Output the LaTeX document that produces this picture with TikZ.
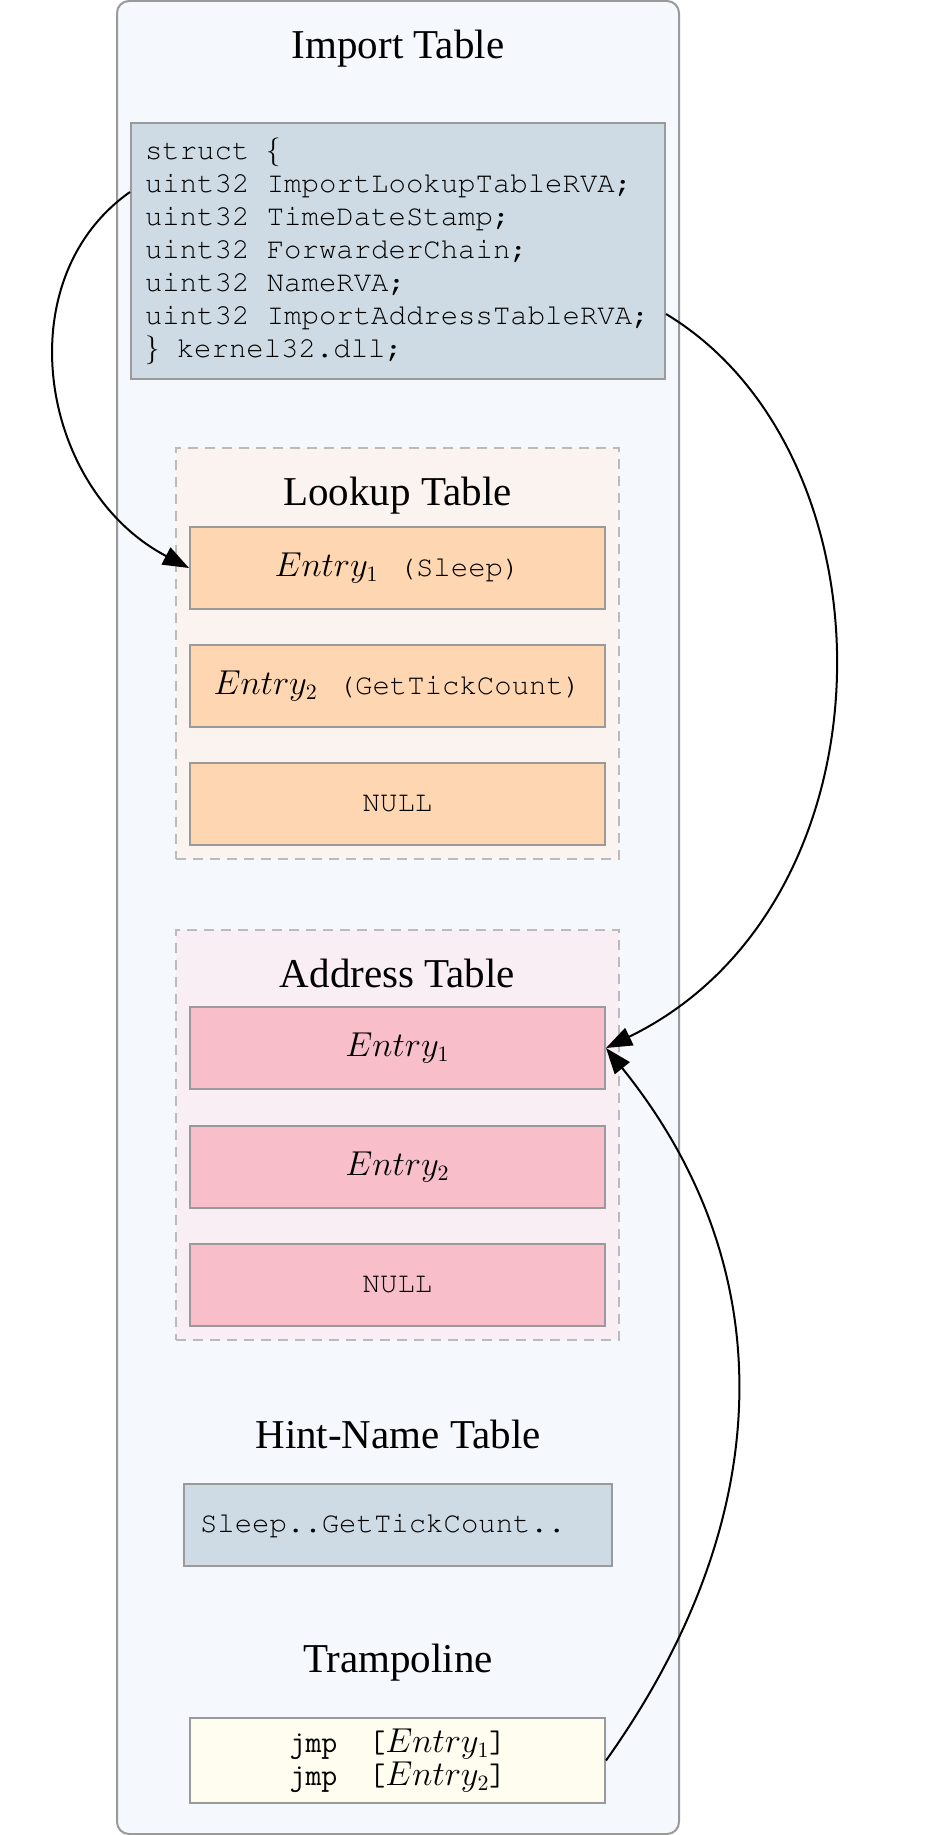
\documentclass[tikz,border=0pt]{standalone}
\usepackage[T1]{fontenc}
\usepackage{fontspec}
\setmainfont{Liberation Serif}
\usetikzlibrary{arrows.meta}
\definecolor{outerfill}{HTML}{F5F8FD}
\definecolor{boxborder}{HTML}{9A9A9A}
\definecolor{structfill}{HTML}{CEDBE4}
\definecolor{lookfill}{HTML}{FBF3EF}
\definecolor{lookentry}{HTML}{FED6B1}
\definecolor{addrfill}{HTML}{F9EEF3}
\definecolor{addrentry}{HTML}{F8BFCB}
\definecolor{trampfill}{HTML}{FEFDF0}
\definecolor{dashcol}{HTML}{BBBBBB}
\newcommand\courfont{\fontencoding{T1}\fontfamily{pcr}\selectfont}
\newcommand\fullspaces{\spaceskip=0.6em\relax\xspaceskip=0.6em\relax}
\newcommand\codetxt[1]{{\fontsize{14.5}{17}\courfont #1}}
\newcommand\jmptxt[1]{{\ttfamily\fontsize{15.5}{16.5}\selectfont #1}}
\begin{document}
\begin{tikzpicture}[x=0.5pt,y=-0.5pt,
  titletext/.style={font=\fontsize{20.5}{24}\selectfont, inner sep=0pt, anchor=center},
  container/.style={draw=boxborder, fill=outerfill, line width=1pt, rounded corners=6pt, minimum width=281pt, minimum height=916.5pt, inner sep=0pt},
  groupbox/.style={draw=dashcol, line width=0.9pt, dash pattern=on 5pt off 3.5pt, minimum width=221.5pt, inner sep=0pt},
  entrybox/.style={draw=boxborder, line width=1pt, minimum width=207.5pt, minimum height=41pt, inner sep=0pt, font=\fontsize{16}{18}\selectfont},
  codebox/.style={draw=boxborder, fill=structfill, line width=1pt, align=left, font=\fontsize{14.5}{16.5}\courfont},
  conn/.style={line width=1pt, -{Triangle[length=13pt,width=9.5pt]}}
]
\useasboundingbox (0,0) rectangle (928,1835);

\node[container] (import) at (398,917.5) {};
\node[titletext] (importtitle) at (398,49) {Import Table};

\node[codebox, text width=253pt, inner xsep=7pt, inner ysep=0pt, minimum height=128pt] (struct) at (398,251)
  {\fullspaces struct $\{$\\
   uint32 ImportLookupTableRVA;\\
   uint32 TimeDateStamp;\\
   uint32 ForwarderChain;\\
   uint32 NameRVA;\\
   uint32 ImportAddressTableRVA;\\
   $\}$ kernel32.dll;};

% Lookup table
\node[groupbox, fill=lookfill, minimum height=205.5pt] (lookup) at (397.5,653.5) {};
\node[titletext] (lookuptitle) at (397.5,496) {Lookup Table};
\node[entrybox, fill=lookentry] (le1) at (397.5,568) {$Entry_1$\hspace{10pt}\codetxt{(Sleep)}};
\node[entrybox, fill=lookentry] (le2) at (397.5,686) {$Entry_2$\hspace{10pt}\codetxt{(GetTickCount)}};
\node[entrybox, fill=lookentry] (lnull) at (397.5,804) {\codetxt{NULL}};

% Address table
\node[groupbox, fill=addrfill, minimum height=205pt] (address) at (397.5,1135) {};
\node[titletext] (addresstitle) at (397.5,973) {Address Table};
\node[entrybox, fill=addrentry] (ae1) at (397.5,1048) {$Entry_1$};
\node[entrybox, fill=addrentry] (ae2) at (397.5,1167) {$Entry_2$};
\node[entrybox, fill=addrentry] (anull) at (397.5,1285) {\codetxt{NULL}};

% Hint-Name table
\node[titletext] (hinttitle) at (398,1434) {Hint-Name Table};
\node[codebox, text width=198pt, inner xsep=8pt, inner ysep=0pt, minimum height=41pt] (hint) at (398,1525)
  {Sleep..GetTickCount..};

% Trampoline
\node[titletext] (tramptitle) at (398,1663) {Trampoline};
\node[draw=boxborder, fill=trampfill, line width=1pt, minimum width=207.5pt, minimum height=42.5pt, inner sep=0pt, align=center,
  font=\fontsize{16}{16.5}\selectfont] (tramp) at (397.5,1760.5)
  {\jmptxt{jmp\ \ [}$Entry_1$\jmptxt{]}\\
   \jmptxt{jmp\ \ [}$Entry_2$\jmptxt{]}};

% connectors
\draw[conn] (struct.west |- 0,192) .. controls (5,280) and (40,490) .. (le1.west);
\draw[conn] (struct.east |- 0,314) .. controls (900,455) and (900,905) .. (ae1.east);
\draw[conn] (tramp.east) .. controls (777,1520) and (785,1270) .. (ae1.east);
\end{tikzpicture}
\end{document}
